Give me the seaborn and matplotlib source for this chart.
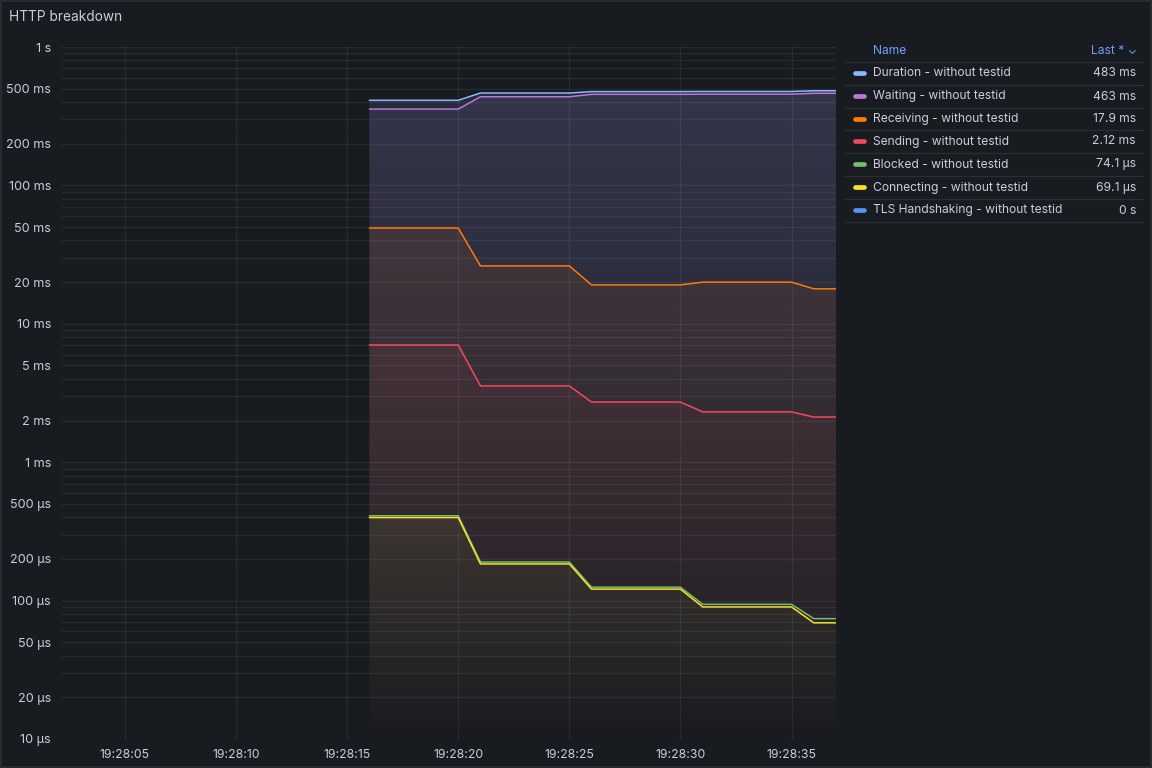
import numpy as np
import pandas as pd
import matplotlib
matplotlib.use("Agg")
import matplotlib.pyplot as plt
from matplotlib.ticker import FixedLocator, FuncFormatter, NullFormatter
from matplotlib.patches import Rectangle
from matplotlib.lines import Line2D
import matplotlib.colors as mcolors
import seaborn as sns

# ---------------- data ----------------
seconds = [16, 17, 18, 19, 20, 21, 22, 23, 24, 25, 26, 27, 28, 29, 30, 31, 32, 33, 34, 35, 36, 37]

duration_ms = [412]*5 + [465]*5 + [476]*5 + [477]*5 + [483]*2
waiting_ms = [356]*5 + [437]*5 + [455]*5 + [456]*5 + [463]*2
receiving_ms = [49.2]*5 + [26.2]*5 + [19.1]*5 + [20.0]*5 + [17.9]*2
sending_ms = [7.03]*5 + [3.56]*5 + [2.72]*5 + [2.31]*5 + [2.12]*2
blocked_us = [410]*5 + [190]*5 + [125]*5 + [94]*5 + [74.1]*2
connecting_us = [398]*5 + [184]*5 + [121]*5 + [90]*5 + [69.1]*2
tls_s = [0]*22

series_names = ["Duration - without testid", "Waiting - without testid",
                "Receiving - without testid", "Sending - without testid",
                "Blocked - without testid", "Connecting - without testid",
                "TLS Handshaking - without testid"]
last_labels = ["483 ms", "463 ms", "17.9 ms", "2.12 ms", "74.1 µs", "69.1 µs", "0 s"]
series_colors = ["#8ab8ff", "#b877d9", "#ff780a", "#f2495c", "#73bf69", "#fade2a", "#5794f2"]

x_tick_seconds = [5, 10, 15, 20, 25, 30, 35]
x_tick_labels = ["19:28:05", "19:28:10", "19:28:15", "19:28:20", "19:28:25", "19:28:30", "19:28:35"]
y_major_ticks = [1e-5, 2e-5, 5e-5, 1e-4, 2e-4, 5e-4, 1e-3, 2e-3, 5e-3, 1e-2, 2e-2, 5e-2, 0.1, 0.2, 0.5, 1.0]

values_s = [
    [v / 1e3 for v in duration_ms],
    [v / 1e3 for v in waiting_ms],
    [v / 1e3 for v in receiving_ms],
    [v / 1e3 for v in sending_ms],
    [v / 1e6 for v in blocked_us],
    [v / 1e6 for v in connecting_us],
    tls_s,
]

rows = []
for name, vals in zip(series_names, values_s):
    for t, v in zip(seconds, vals):
        rows.append({"t": t, "value": v, "series": name})
df = pd.DataFrame(rows)

# ---------------- style ----------------
BG = "#181b1f"
GRID_RGB = "#ccccdc"
GRID_ALPHA = 0.075
TEXT = "#ccccdc"
sns.set_style("dark", {"axes.facecolor": BG, "figure.facecolor": BG})
plt.rcParams["font.family"] = ["Inter", "DejaVu Sans"]

fig = plt.figure(figsize=(11.52, 7.68), dpi=100)
fig.patch.set_facecolor(BG)
ax = fig.add_axes([62 / 1152, 1 - 739 / 768, (836 - 62) / 1152, (739 - 47) / 768])
ax.set_facecolor(BG)
ax.set_yscale("log")

YMIN, YMAX = 1e-5, 1.0
XMIN, XMAX = 2.17, 37.0

# gradient fills (opacity gradient, composited in float; series are nested)
palette = dict(zip(series_names, series_colors))
NROWS = 800
frac = np.linspace(0, 1, NROWS)
alpha = 0.118 * frac
visible = [(n, np.array(v, dtype=float)) for n, v in zip(series_names, values_s)
           if np.any(np.array(v) > 0)]
bg_rgb = np.array(mcolors.to_rgb(BG))
comp = np.tile(bg_rgb, (NROWS, 1))
for k, (name, v) in enumerate(visible):
    col = np.array(mcolors.to_rgb(palette[name]))
    comp = comp * (1 - alpha[:, None]) + col * alpha[:, None]
    lower = visible[k + 1][1] if k + 1 < len(visible) else np.full_like(v, YMIN)
    poly = ax.fill_between(seconds, v, lower, color="none", linewidth=0)
    img = np.repeat(comp[:, None, :], 4, axis=1)
    im = ax.imshow(img, extent=[0, 1, 0, 1], transform=ax.transAxes, origin="lower",
                   aspect="auto", zorder=1, interpolation="bilinear")
    im.set_clip_path(poly.get_paths()[0], ax.transData)

plot_df = df[df["value"] > 0]
sns.lineplot(data=plot_df, x="t", y="value", hue="series", palette=palette,
             hue_order=series_names, linewidth=1.1, legend=False, ax=ax, zorder=3)

ax.set_xlim(XMIN, XMAX)
ax.set_ylim(YMIN, YMAX)

# ticks
def fmt_time(v, pos=None):
    if v >= 1:
        return f"{v:g} s"
    if v >= 1e-3:
        return f"{round(v * 1e3, 6):g} ms"
    return f"{round(v * 1e6, 6):g} µs"

ax.yaxis.set_major_locator(FixedLocator(y_major_ticks))
ax.yaxis.set_major_formatter(FuncFormatter(fmt_time))
minor = [m * 10.0 ** e for e in range(-5, 0) for m in range(1, 10)]
ax.yaxis.set_minor_locator(FixedLocator(minor))
ax.yaxis.set_minor_formatter(NullFormatter())
ax.set_xticks(x_tick_seconds)
ax.set_xticklabels(x_tick_labels)
ax.tick_params(axis="both", which="both", length=0, colors=TEXT, labelsize=8.8)
ax.tick_params(axis="x", pad=7)
ax.tick_params(axis="y", pad=8)
for lab in ax.get_yticklabels():
    lab.set_fontsize(9.1)
ax.grid(True, which="major", axis="both", color=GRID_RGB, alpha=GRID_ALPHA, linewidth=1.0, zorder=2)
ax.grid(True, which="minor", axis="y", color=GRID_RGB, alpha=GRID_ALPHA, linewidth=1.0, zorder=2)
ax.set_axisbelow(False)
for s in ax.spines.values():
    s.set_visible(False)
ax.set_xlabel("")
ax.set_ylabel("")

# title
fig.text(9 / 1152, 1 - 17 / 768, "HTTP breakdown", color=TEXT, fontsize=9.9,
         va="center", ha="left")

# legend table
def fy(ypx):
    return 1 - ypx / 768

LFS = 8.7
fig.text(873 / 1152, fy(50.5), "Name", color="#6e9fff", fontsize=LFS, va="center", ha="left")
fig.text(1137 / 1152, fy(50.5), "Last * ⌄", color="#6e9fff", fontsize=LFS, va="center", ha="right")
sep_color = "#2a2d33"
row_y = [73.5, 96.5, 119, 141.5, 164.5, 187.5, 210.5]
fig.add_artist(Line2D([845 / 1152, 1143 / 1152], [fy(61.5)] * 2, color=sep_color, lw=1))
for name, col, last, yy in zip(series_names, series_colors, last_labels, row_y):
    fig.add_artist(Line2D([854.5 / 1152, 864 / 1152], [fy(yy - 0.5)] * 2, color=col, lw=3.4,
                          solid_capstyle="round"))
    fig.text(873 / 1152, fy(yy), name, color=TEXT, fontsize=LFS, va="center", ha="left")
    fig.text(1136 / 1152, fy(yy), last, color=TEXT, fontsize=LFS, va="center", ha="right")
    fig.add_artist(Line2D([845 / 1152, 1143 / 1152], [fy(yy + 11)] * 2, color=sep_color, lw=1))

# panel border
fig.add_artist(Rectangle((0.0005, 0.0008), 0.999, 0.9985, transform=fig.transFigure,
                         fill=False, edgecolor="#2b2e35", lw=1.2))

fig.savefig("out.png", dpi=100, facecolor=BG)
